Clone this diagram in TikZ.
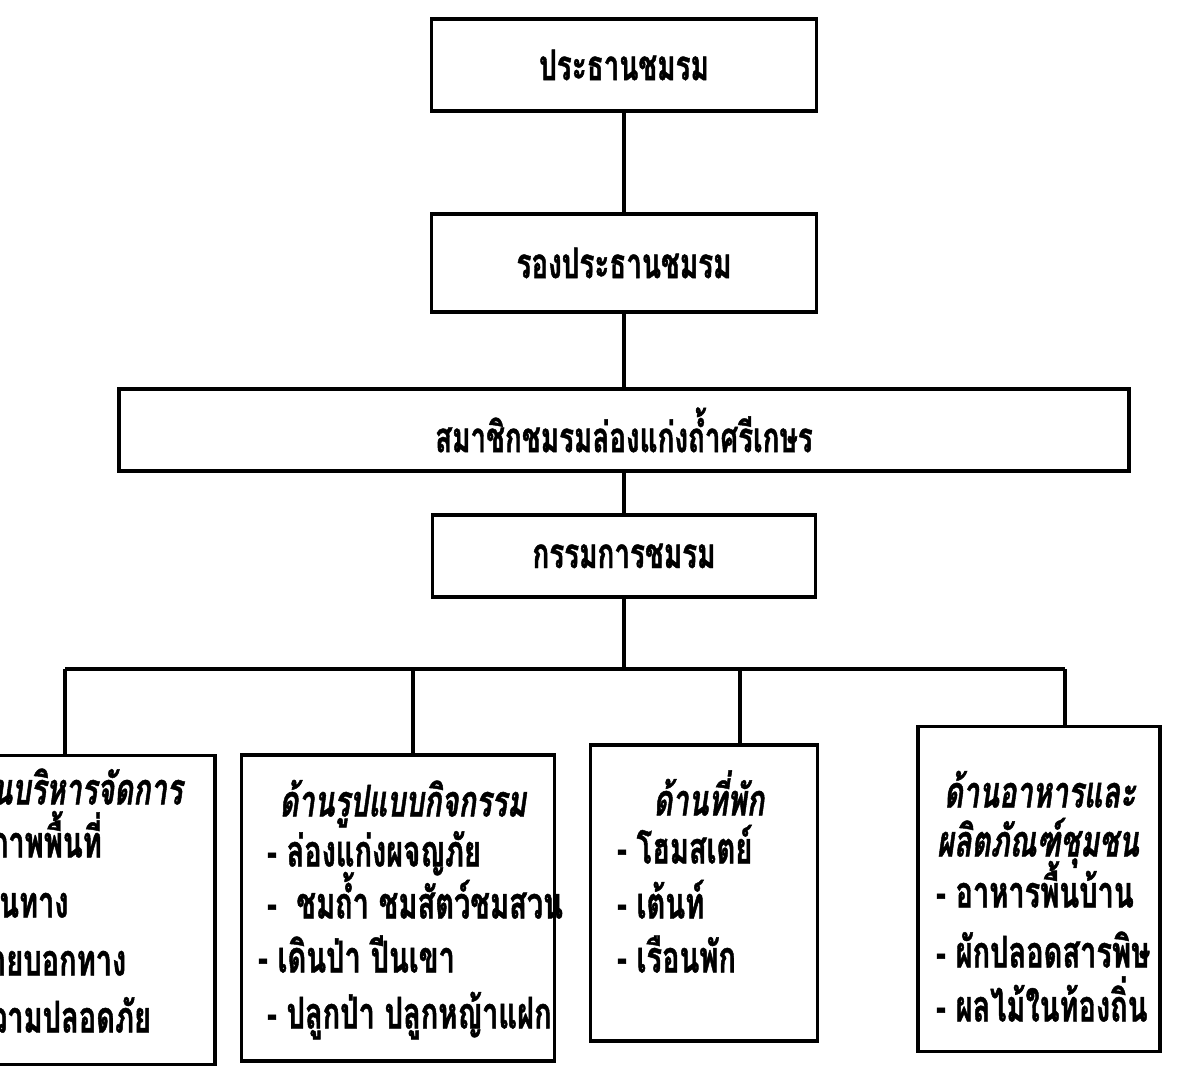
\documentclass[tikz,border=0pt]{standalone}
\usepackage{fontspec}
\newfontfamily\thaifont[Script=Thai, FakeStretch=0.66, FakeBold=1]{Loma}
\usepackage{tikz}
\usetikzlibrary{shapes,calc}
\tikzstyle{line} = [draw, line width=2.2pt]
\tikzstyle{block} = [draw, line width=2.2pt, rectangle, text centered, minimum width=7.7cm, font=\thaifont\bfseries\fontsize{24}{28}\selectfont]
\tikzstyle{panel} = [draw, line width=2.2pt, rectangle]
\tikzstyle{head} = [text centered, text height=0.5cm, text depth=0.12cm, font=\thaifont\bfseries\itshape\fontsize{25}{29}\selectfont]
\tikzstyle{item} = [anchor=west, text height=0.5cm, text depth=0.12cm, font=\thaifont\bfseries\fontsize{25}{29}\selectfont]

\begin{document}
\begin{tikzpicture}[x=0.02cm, y=0.02cm, node distance=3.96cm, auto]
        \path[use as bounding box, clip] (0,0) rectangle (1187,-1084);
        \node[block, minimum height=1.84cm] (pres) at (624,-65) {ประธานชมรม};
        \node[block, minimum height=1.96cm, below of=pres] (vice) {รองประธานชมรม};
        \node[block, minimum height=1.64cm, minimum width=20.2cm, below of=vice, node distance=3.34cm] (memb) {สมาชิกชมรมล่องแก่งถ้ำศรีเกษร};
        \node[block, minimum height=1.64cm, minimum width=7.66cm, below of=memb, node distance=2.52cm] (comm) {กรรมการชมรม};
        \coordinate[below of=comm, node distance=2.26cm] (bus);
        \coordinate (dropA) at (65,-669);
        \coordinate (dropB) at (413,-669);
        \coordinate (dropC) at (740,-669);
        \coordinate (dropD) at (1065,-669);
        % the four sides
        \node[panel, minimum width=6cm, minimum height=6.18cm] (adm) at (65,-910) {};
        \node[panel, minimum width=6.26cm, minimum height=6.12cm] (act) at (398,-908) {};
        \node[panel, minimum width=4.54cm, minimum height=5.92cm] (stay) at (704,-893) {};
        \node[panel, minimum width=4.84cm, minimum height=6.5cm] (food) at (1039,-889) {};
        \node[head] (admh) at (70,-795) {ด้านบริหารจัดการ};
        \node[item] (adm1) at (-54,-848) {- สภาพพื้นที่};
        \node[item] (adm2) at (-54,-908) {- เส้นทาง};
        \node[item] (adm3) at (-54,-966) {- ป้ายบอกทาง};
        \node[item] (adm4) at (-54,-1023) {- ความปลอดภัย};
        \node[head] (acth) at (403,-807) {ด้านรูปแบบกิจกรรม};
        \node[item] (act1) at (261,-857) {- ล่องแก่งผจญภัย};
        \node[item] (act2) at (261,-909) {-\ \ ชมถ้ำ ชมสัตว์ชมสวน};
        \node[item] (act3) at (252,-963) {- เดินป่า ปีนเขา};
        \node[item] (act4) at (261,-1019) {- ปลูกป่า ปลูกหญ้าแฝก};
        \node[head] (stayh) at (709,-806) {ด้านที่พัก};
        \node[item] (stay1) at (611,-854) {- โฮมสเตย์};
        \node[item] (stay2) at (611,-909) {- เต้นท์};
        \node[item] (stay3) at (611,-963) {- เรือนพัก};
        \node[head] (foodh1) at (1040,-798) {ด้านอาหารและ};
        \node[head] (foodh2) at (1038,-847) {ผลิตภัณฑ์ชุมชน};
        \node[item] (food1) at (930,-898) {- อาหารพื้นบ้าน};
        \node[item] (food2) at (930,-958) {- ผักปลอดสารพิษ};
        \node[item] (food3) at (930,-1012) {- ผลไม้ในท้องถิ่น};
        \path[line] (pres) -- (vice);
        \path[line] (vice) -- (memb);
        \path[line] (memb) -- (comm);
        \path[line] (comm) -- (bus);
        \path[line] (dropA) -- (dropD);
        \path[line] (dropA) -- (dropA |- adm.north);
        \path[line] (dropB) -- (dropB |- act.north);
        \path[line] (dropC) -- (dropC |- stay.north);
        \path[line] (dropD) -- (dropD |- food.north);
\end{tikzpicture}
\end{document}
